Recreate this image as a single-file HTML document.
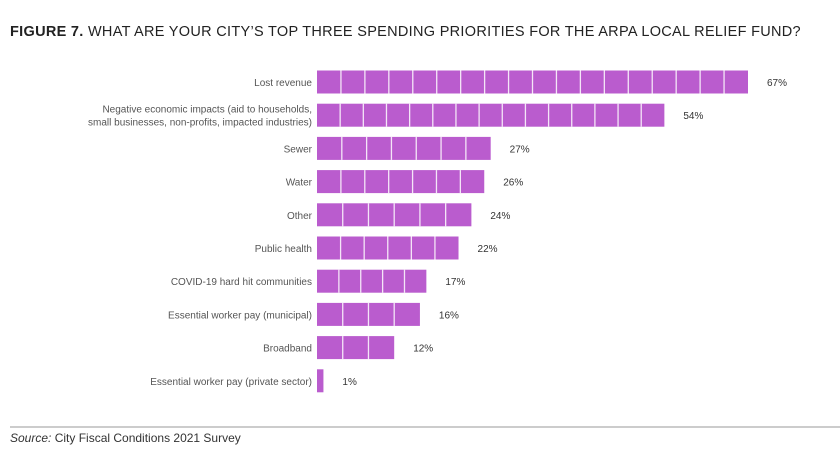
<!DOCTYPE html>
<html><head><meta charset="utf-8"><style>
body{margin:0;background:#fff;width:840px;height:457px;overflow:hidden;font-family:"Liberation Sans",sans-serif;}
</style></head><body>
<svg width="840" height="457" xmlns="http://www.w3.org/2000/svg">
<text x="10" y="36" font-size="14.5" font-weight="bold" fill="#222" letter-spacing="0.3">FIGURE 7. <tspan font-weight="normal">WHAT ARE YOUR CITY’S TOP THREE SPENDING PRIORITIES FOR THE ARPA LOCAL RELIEF FUND?</tspan></text>
<g id="plot"></g>
<line x1="10" y1="427" x2="840" y2="427" stroke="#999" stroke-width="1"/>
<text x="10" y="442" font-size="12" fill="#333"><tspan font-style="italic">Source:</tspan> City Fiscal Conditions 2021 Survey</text>
</svg>
<script>
const categories=[["Lost revenue"],["Negative economic impacts (aid to households,","small businesses, non-profits, impacted industries)"],["Sewer"],["Water"],["Other"],["Public health"],["COVID-19 hard hit communities"],["Essential worker pay (municipal)"],["Broadband"],["Essential worker pay (private sector)"]];
const values=[67,54,27,26,24,22,17,16,12,1];
const valueLabels=["67%","54%","27%","26%","24%","22%","17%","16%","12%","1%"];
const NS="http://www.w3.org/2000/svg";
const x0=317, pxPer=(748-317)/67;
const xScale=v=>x0+v*pxPer;
const yScale=i=>82+i*33.2;
const g=document.getElementById('plot');
function mk(t,a){const e=document.createElementNS(NS,t);for(const k in a)e.setAttribute(k,a[k]);return e;}
values.forEach((v,i)=>{
  const cy=yScale(i), w=xScale(v)-x0;
  const bar=mk('rect',{x:x0,y:cy-11.5,width:Math.max(w,1.5),height:23,fill:'#BA5CCE'});
  
  
  g.appendChild(bar);
  const n=Math.max(1,Math.round(v/3.7));
  for(let s=1;s<n;s++){
    const lx=x0+w*s/n;
    const ln=mk('line',{x1:lx,y1:cy-11.5,x2:lx,y2:cy+11.5,stroke:'#fff','stroke-width':1.3,opacity:0.85});
    
    
    g.appendChild(ln);
  }
  const lines=categories[i];
  lines.forEach((t,j)=>{
    const tx=mk('text',{x:312,y:cy+4+(j-(lines.length-1)/2)*13,'font-size':10,fill:'#555','text-anchor':'end'});
    tx.textContent=t;
    
    
    g.appendChild(tx);
  });
  const vl=mk('text',{x:xScale(v)+19,y:cy+4,'font-size':10,fill:'#333'});
  vl.textContent=valueLabels[i];
  
  
  g.appendChild(vl);
});
</script>
</body></html>
